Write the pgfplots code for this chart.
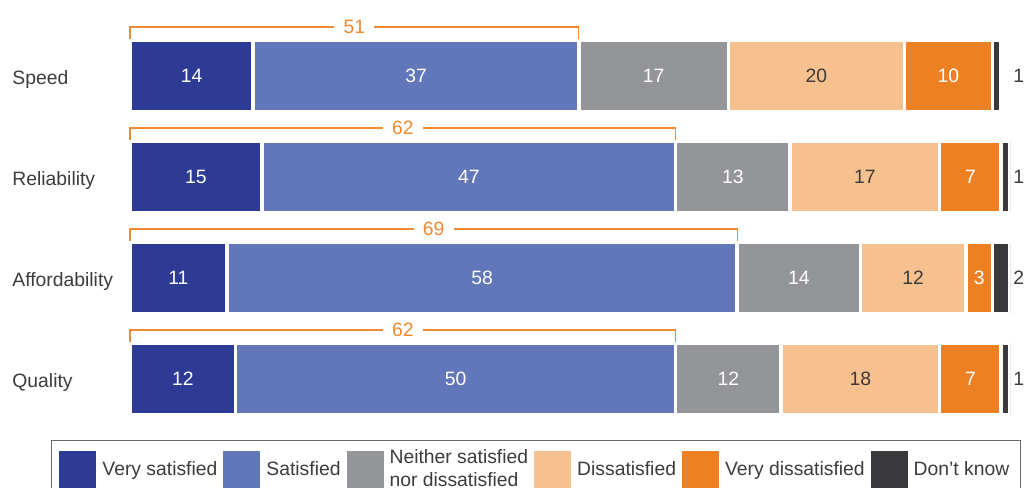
\documentclass[border=0pt]{standalone}
\usepackage{pgfplots}
\pgfplotsset{compat=1.18}
\usepackage{pgfplotstable}
\usepackage{fontspec}
\setmainfont{Liberation Sans}
\definecolor{cVS}{HTML}{2D3B95}
\definecolor{cS}{HTML}{6276BA}
\definecolor{cN}{HTML}{939598}
\definecolor{cD}{HTML}{F7C08F}
\definecolor{cVD}{HTML}{EE8024}
\definecolor{cDK}{HTML}{3A3A3C}
\definecolor{cBr}{HTML}{F08A30}
\definecolor{cTxt}{HTML}{3C3C3C}
\definecolor{cLeg}{HTML}{6A6A6A}

\pgfplotstableread{
y vs s n d vd dk
3 14 37 17 20 10 1
2 15 47 13 17 7 1
1 11 58 14 12 3 2
0 12 50 12 18 7 1
}\data

\pgfplotstableread{
x y l
7 3 14
32.5 3 37
59.5 3 17
93 3 10
7.5 2 15
38.5 2 47
68.5 2 13
95.5 2 7
5.5 1 11
40 1 58
76 1 14
96.5 1 3
6 0 12
37 0 50
68 0 12
95.5 0 7
}\whitelabels

\pgfplotstableread{
x y l
78 3 20
83.5 2 17
89 1 12
83 0 18
101 3 1
101 2 1
101 1 2
101 0 1
}\darklabels

\pgfplotstableread{
x y l
25.5 3.486 51
31 2.486 62
34.5 1.486 69
31 0.486 62
}\brlabels

\pgfplotsset{mybase/.style={scale only axis, width=660pt, height=303pt,
  xmin=0, xmax=100, ymin=-0.5, ymax=3.5,
  at={(97.5pt,43.875pt)}, anchor=south west}}

\begin{document}
\begin{tikzpicture}[font=\fontsize{14.5}{17}\selectfont]
\path[use as bounding box] (0,0) rectangle (770.25pt,366pt);
\begin{axis}[mybase, xbar stacked, bar width=0.708,
  axis x line=none, axis y line=left, y axis line style={draw=none},
  ytick={0,1,2,3}, yticklabels={Quality,Affordability,Reliability,Speed},
  ytick style={draw=none},
  yticklabel style={anchor=base west, xshift=-86.25pt, yshift=-6.5pt, inner sep=0pt, text=cTxt},
  legend columns=6, legend cell align=left,
  legend style={at={(-0.0898,-0.026)}, anchor=north west, draw=cLeg, line width=0.7pt,
    text=cTxt, cells={align=left}, inner xsep=6pt, inner ysep=5pt,
    /tikz/every odd column/.append style={column sep=2.5pt},
    /tikz/every even column/.append style={column sep=2.5pt}},
  legend image code/.code={\fill[#1,draw=none] (0pt,-13.9pt) rectangle (27.75pt,13.9pt);}]
\addplot[fill=cVS, draw=white, line width=2.6pt] table[x=vs,y=y] \data;
\addlegendentry{Very satisfied}
\addplot[fill=cS, draw=white, line width=2.6pt] table[x=s,y=y] \data;
\addlegendentry{Satisfied}
\addplot[fill=cN, draw=white, line width=2.6pt] table[x=n,y=y] \data;
\addlegendentry{Neither satisfied\\nor dissatisfied}
\addplot[fill=cD, draw=white, line width=2.6pt] table[x=d,y=y] \data;
\addlegendentry{Dissatisfied}
\addplot[fill=cVD, draw=white, line width=2.6pt] table[x=vd,y=y] \data;
\addlegendentry{Very dissatisfied}
\addplot[fill=cDK, draw=white, line width=2.6pt] table[x=dk,y=y] \data;
\addlegendentry{Don't know}
\end{axis}
\begin{axis}[mybase, hide axis, clip=false]
\addplot[cBr, line width=1pt] coordinates {(0,3.37) (0,3.486) (51,3.486) (51,3.37)};
\addplot[cBr, line width=1pt] coordinates {(0,2.37) (0,2.486) (62,2.486) (62,2.37)};
\addplot[cBr, line width=1pt] coordinates {(0,1.37) (0,1.486) (69,1.486) (69,1.37)};
\addplot[cBr, line width=1pt] coordinates {(0,0.37) (0,0.486) (62,0.486) (62,0.37)};
\addplot[only marks, mark=none,
  point meta=explicit symbolic, nodes near coords,
  nodes near coords style={anchor=center, text=cBr, fill=white, inner xsep=7pt, inner ysep=1pt}]
  table[x=x,y=y,meta=l] \brlabels;
\addplot[only marks, mark=none,
  point meta=explicit symbolic, nodes near coords,
  nodes near coords style={anchor=center, text=white}]
  table[x=x,y=y,meta=l] \whitelabels;
\addplot[only marks, mark=none,
  point meta=explicit symbolic, nodes near coords,
  nodes near coords style={anchor=center, text=cTxt}]
  table[x=x,y=y,meta=l] \darklabels;
\end{axis}
\end{tikzpicture}
\end{document}
